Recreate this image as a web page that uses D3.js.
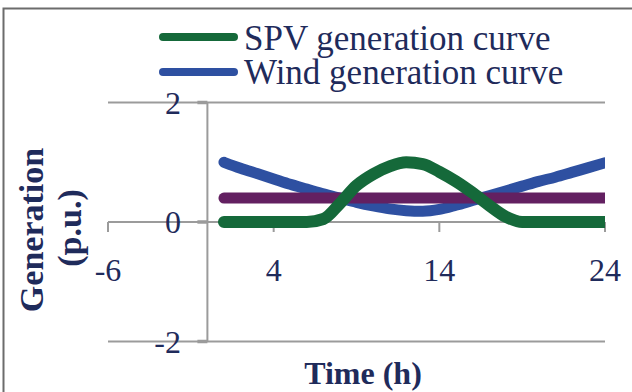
<!DOCTYPE html>
<html>
<head>
<meta charset="utf-8">
<script src="https://cdn.jsdelivr.net/npm/d3@7"></script>
<style>
  html, body { margin: 0; padding: 0; background: #fff; }
  svg { display: block; }
  text { font-family: "Liberation Serif", "Times New Roman", serif; fill: #1f2b5b; }
</style>
</head>
<body>
<svg id="chart" width="632" height="392"></svg>
<script>
// Hourly generation profiles (p.u.)
const hours = [1, 2, 3, 4, 5, 6, 7, 8, 9, 10, 11, 12, 13, 14, 15, 16, 17, 18, 19, 20, 21, 22, 23, 24];
const spv = [0, 0, 0, 0, 0, 0, 0.05, 0.31, 0.61, 0.80, 0.93, 1.0, 0.97, 0.84, 0.68, 0.49, 0.28, 0.09, 0, 0, 0, 0, 0, 0];
const wind = [1.0, 0.90, 0.81, 0.72, 0.63, 0.55, 0.47, 0.40, 0.33, 0.27, 0.22, 0.19, 0.18, 0.21, 0.28, 0.36, 0.44, 0.52, 0.60, 0.68, 0.75, 0.83, 0.91, 0.99];
const level = [0.4, 0.4, 0.4, 0.4, 0.4, 0.4, 0.4, 0.4, 0.4, 0.4, 0.4, 0.4, 0.4, 0.4, 0.4, 0.4, 0.4, 0.4, 0.4, 0.4, 0.4, 0.4, 0.4, 0.4];

const xTicks = [-6, 4, 14, 24];
const yTicks = [-2, 0, 2];
const legendLabels = ["SPV generation curve", "Wind generation curve"];

const colors = { spv: "#15693a", wind: "#2e50a1", level: "#632061", grid: "#9b9b9b" };

const svg = d3.select("#chart");

// outer frame
svg.append("rect")
  .attr("x", 3.5).attr("y", 8.5).attr("width", 700).attr("height", 500)
  .attr("fill", "none").attr("stroke", "#6c6c6c").attr("stroke-width", 2);

const x = d3.scaleLinear().domain([-6, 24]).range([108, 605]);
const y = d3.scaleLinear().domain([-2, 2]).range([341.5, 102.5]);

// horizontal grid lines
svg.append("g").selectAll("line").data(yTicks).join("line")
  .attr("x1", x(-6)).attr("x2", x(24))
  .attr("y1", d => y(d)).attr("y2", d => y(d))
  .attr("stroke", colors.grid).attr("stroke-width", 2);

// vertical axis at t = 0
svg.append("line")
  .attr("x1", x(0)).attr("x2", x(0))
  .attr("y1", y(2)).attr("y2", y(-2))
  .attr("stroke", colors.grid).attr("stroke-width", 2);

// y-axis tick marks
svg.append("g").selectAll("line").data(yTicks).join("line")
  .attr("x1", x(0) - 10).attr("x2", x(0))
  .attr("y1", d => y(d)).attr("y2", d => y(d))
  .attr("stroke", colors.grid).attr("stroke-width", 3.5);

// x-axis tick marks along the zero line
svg.append("g").selectAll("line").data(xTicks).join("line")
  .attr("x1", d => x(d)).attr("x2", d => x(d))
  .attr("y1", y(0)).attr("y2", y(0) + 10)
  .attr("stroke", colors.grid).attr("stroke-width", 2);

// tick labels
svg.append("g").selectAll("text").data(yTicks).join("text")
  .attr("x", 181).attr("y", d => y(d) + 11)
  .attr("text-anchor", "end").attr("font-size", 32)
  .text(d => d);

svg.append("g").selectAll("text").data(xTicks).join("text")
  .attr("x", d => x(d)).attr("y", 281)
  .attr("text-anchor", "middle").attr("font-size", 32)
  .text(d => d);

// series
const clip = svg.append("clipPath").attr("id", "plot-clip");
clip.append("rect").attr("x", x(-6)).attr("y", 0).attr("width", x(24) - x(-6)).attr("height", 392);

const line = d3.line()
  .x((d, i) => x(hours[i]))
  .y(d => y(d))
  .curve(d3.curveMonotoneX);

const plot = svg.append("g").attr("clip-path", "url(#plot-clip)");
[[wind, colors.wind, 11], [level, colors.level, 11], [spv, colors.spv, 12]].forEach(([vals, c, w]) => {
  plot.append("path")
    .attr("d", line(vals))
    .attr("fill", "none")
    .attr("stroke", c)
    .attr("stroke-width", w)
    .attr("stroke-linecap", "round")
    .attr("stroke-linejoin", "round");
});

// legend
const legend = svg.append("g");
[[legendLabels[0], colors.spv, 37, 50], [legendLabels[1], colors.wind, 72, 84]].forEach(([label, c, ly, ty]) => {
  legend.append("line")
    .attr("x1", 163).attr("x2", 234).attr("y1", ly).attr("y2", ly)
    .attr("stroke", c).attr("stroke-width", 8).attr("stroke-linecap", "round");
  legend.append("text")
    .attr("x", 244).attr("y", ty).attr("font-size", 35)
    .text(label);
});

// axis titles
svg.append("text")
  .attr("transform", "translate(43,230) rotate(-90)")
  .attr("text-anchor", "middle").attr("font-size", 34).attr("font-weight", "bold")
  .text("Generation");
svg.append("text")
  .attr("transform", "translate(81,228) rotate(-90)")
  .attr("text-anchor", "middle").attr("font-size", 34).attr("font-weight", "bold")
  .text("(p.u.)");
svg.append("text")
  .attr("x", 363).attr("y", 383.5)
  .attr("text-anchor", "middle").attr("font-size", 32).attr("font-weight", "bold")
  .text("Time (h)");
</script>
</body>
</html>
